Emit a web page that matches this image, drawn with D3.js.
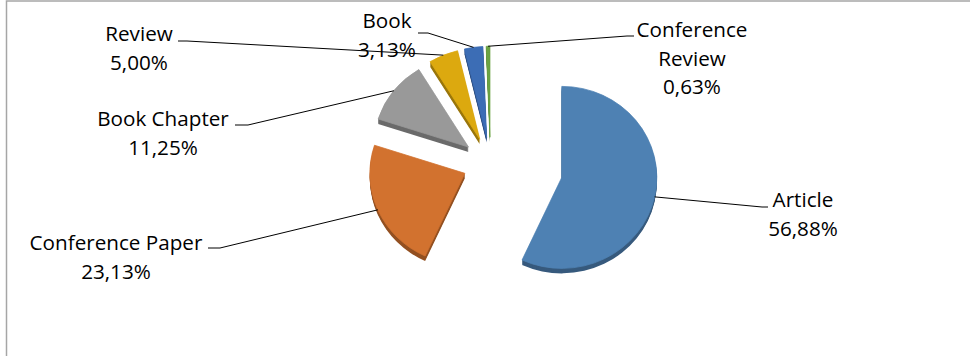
<!DOCTYPE html>
<html><head><meta charset="utf-8">
<script src="https://cdn.jsdelivr.net/npm/d3@7"></script>
<style>body{margin:0;background:#fff}svg{display:block}</style>
</head><body><script>
// ---- data ----
const categories = ["Article","Conference Paper","Book Chapter","Review","Book","Conference Review"];
const values = [56.88, 23.13, 11.25, 5.00, 3.13, 0.63];
const labelLines = [["Article"],["Conference Paper"],["Book Chapter"],["Review"],["Book"],["Conference","Review"]];

// ---- layout / style ----
const W = 970, H = 356;
const svg = d3.select("body").append("svg").attr("width", W).attr("height", H);
svg.append("rect").attr("x", 6.5).attr("y", 1).attr("width", W + 20).attr("height", H + 20)
  .attr("fill", "#fff").attr("stroke", "#a6a6a6").attr("stroke-width", 1.5);

const color = d3.scaleOrdinal().domain(categories)
  .range(["#4e81b3","#d2722f","#999999","#dca90f","#3c6db5","#6ba344"]);

const cx = 490.5, cy = 163, rx = 95, ry = 91, tilt = 0.92, depth = 5;
const explodeBy = c => c === "Article" ? 73 : 28;

const locale = d3.formatLocale({decimal: ",", thousands: ".", grouping: [3], currency: ["", "€"]});
const fmt = v => locale.format(".2f")(v) + "%";

const labelPos = {
  "Article":           {tx: 803, ty: 207, elbow: [762, 207], end: [768, 207]},
  "Conference Paper":  {tx: 116, ty: 250, elbow: [220, 248], end: [208, 248]},
  "Book Chapter":      {tx: 163, ty: 126, elbow: [248, 125], end: [235, 125]},
  "Review":            {tx: 139, ty: 41,  elbow: [187, 41],  end: [178, 41]},
  "Book":              {tx: 387, ty: 28,  elbow: [428, 33],  end: [418, 33]},
  "Conference Review": {tx: 692, ty: 37,  elbow: [627, 36],  end: [634, 36]}
};
const lineH = 28.5;

// font size fitted so that "Conference Paper" spans ~173px
const probe = svg.append("text").attr("font-family", "Open Sans").attr("font-size", 20).text("Conference Paper");
const fs = 20 * 173 / probe.node().getComputedTextLength();
probe.remove();

const pie = d3.pie().sort(null).value(d => d.v);
const arcs = pie(categories.map((c, i) => ({c, v: values[i], lines: labelLines[i]})));
const arc = d3.arc().innerRadius(0).outerRadius(rx);

const g = svg.append("g");
arcs.forEach(a => {
  const mid = (a.startAngle + a.endAngle) / 2;
  const e = explodeBy(a.data.c);
  const ox = cx + e * Math.sin(mid), oy = cy - e * Math.cos(mid) * tilt;
  a.ox = ox; a.oy = oy; a.mid = mid;
  const sg = g.append("g").attr("transform", `translate(${ox},${oy})`);
  const base = d3.color(color(a.data.c));
  for (let k = depth; k >= 1; k--) {
    sg.append("path").attr("d", arc(a))
      .attr("transform", `translate(0,${k}) scale(1,${ry / rx})`)
      .attr("fill", base.darker(1.0));
  }
  sg.append("path").attr("d", arc(a))
    .attr("transform", `scale(1,${ry / rx})`)
    .attr("fill", base).attr("stroke", base).attr("stroke-width", 0.8)
    .attr("stroke-linejoin", "round");
});

// leader lines and labels
arcs.forEach(a => {
  const p = labelPos[a.data.c];
  const sx = a.ox + rx * Math.sin(a.mid), sy = a.oy - ry * Math.cos(a.mid);
  svg.append("polyline")
    .attr("points", [[sx, sy], p.elbow, p.end].map(q => q.join(",")).join(" "))
    .attr("fill", "none").attr("stroke", "#000").attr("stroke-width", 1);
  const t = svg.append("text").attr("font-family", "Open Sans").attr("font-size", fs)
    .attr("fill", "#000").attr("text-anchor", "middle");
  const lines = a.data.lines.concat([fmt(a.data.v)]);
  lines.forEach((l, i) => {
    t.append("tspan").attr("x", p.tx).attr("y", p.ty + i * lineH).text(l);
  });
});
</script></body></html>
